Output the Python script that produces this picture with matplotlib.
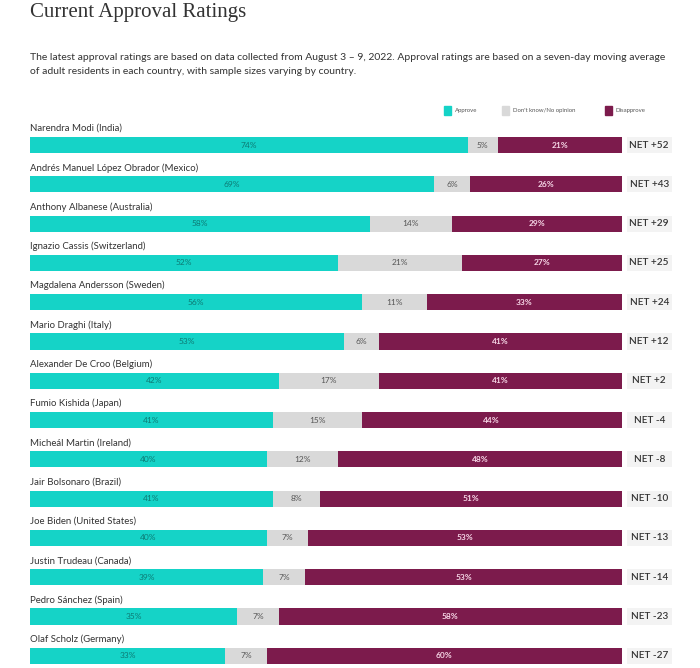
import matplotlib
matplotlib.use("Agg")
import matplotlib.pyplot as plt
import numpy as np

leaders = [
    "Narendra Modi (India)",
    "Andrés Manuel López Obrador (Mexico)",
    "Anthony Albanese (Australia)",
    "Ignazio Cassis (Switzerland)",
    "Magdalena Andersson (Sweden)",
    "Mario Draghi (Italy)",
    "Alexander De Croo (Belgium)",
    "Fumio Kishida (Japan)",
    "Micheál Martin (Ireland)",
    "Jair Bolsonaro (Brazil)",
    "Joe Biden (United States)",
    "Justin Trudeau (Canada)",
    "Pedro Sánchez (Spain)",
    "Olaf Scholz (Germany)",
]
approve = [74, 69, 58, 52, 56, 53, 42, 41, 40, 41, 40, 39, 35, 33]
no_opinion = [5, 6, 14, 21, 11, 6, 17, 15, 12, 8, 7, 7, 7, 7]
disapprove = [21, 26, 29, 27, 33, 41, 41, 44, 48, 51, 53, 53, 58, 60]
net = ["+52", "+43", "+29", "+25", "+24", "+12", "+2", "-4", "-8", "-10", "-13", "-14", "-23", "-27"]

c_app = "#15d3c7"
c_none = "#d9d9d9"
c_dis = "#7c1b4c"
sans = ["Lato", "DejaVu Sans"]

fig = plt.figure(figsize=(7, 6.68), dpi=100)
ax = fig.add_axes([30 / 700, 0, 592 / 700, 1 - 125 / 668])

a = np.array(approve, float)
n = np.array(no_opinion, float)
d = np.array(disapprove, float)
tot = a + n + d
a_w = a / tot * 100
n_w = n / tot * 100
d_w = d / tot * 100
y = np.arange(len(leaders))
h = 0.41

ax.barh(y, a_w, height=h, color=c_app)
ax.barh(y, n_w, left=a_w, height=h, color=c_none)
ax.barh(y, d_w, left=a_w + n_w, height=h, color=c_dis)
# NET boxes to the right of each bar
ax.barh(y, 7.6, left=100.8, height=h, color="#f3f3f3", clip_on=False)

for i in range(len(leaders)):
    ax.text(0, y[i] - 0.42, leaders[i], ha="left", va="center", fontsize=6.9,
            color="#333333", family=sans)
    ax.text(a_w[i] / 2, y[i], f"{approve[i]}%", ha="center", va="center",
            fontsize=6, color="#0d7a74", family=sans)
    ax.text(a_w[i] + n_w[i] / 2, y[i], f"{no_opinion[i]}%", ha="center", va="center",
            fontsize=6, color="#555555", family=sans)
    ax.text(a_w[i] + n_w[i] + d_w[i] / 2, y[i], f"{disapprove[i]}%", ha="center",
            va="center", fontsize=6, color="#f6d6e6", fontweight="bold", family=sans)
    ax.text(104.6, y[i], f"NET {net[i]}", ha="center", va="center", fontsize=7.2,
            color="#333333", family=sans, fontweight="semibold", clip_on=False)

ax.set_xlim(0, 100)
ax.set_ylim(13.31, -0.509)
ax.axis("off")

# title, note and legend
fig.text(30 / 700, 1 - 13 / 668, "Current Approval Ratings", ha="left", va="center",
         fontsize=15, family=["Liberation Serif", "DejaVu Serif"], color="#333333")
fig.text(30 / 700, 1 - 57 / 668,
         "The latest approval ratings are based on data collected from August 3 – 9, 2022. "
         "Approval ratings are based on a seven-day moving average",
         ha="left", va="center", fontsize=7.5, family=sans, color="#333333")
fig.text(30 / 700, 1 - 72 / 668,
         "of adult residents in each country, with sample sizes varying by country.",
         ha="left", va="center", fontsize=7.5, family=sans, color="#333333")

legend_items = [("Approve", c_app, 444), ("Don't know/No opinion", c_none, 502),
                ("Disapprove", c_dis, 605)]
for label, col, px in legend_items:
    fig.patches.append(plt.Rectangle((px / 700, 1 - 115 / 668), 7 / 700, 9 / 668,
                                     transform=fig.transFigure, color=col))
    fig.text((px + 11) / 700, 1 - 110.5 / 668, label, ha="left", va="center",
             fontsize=4.3, family=sans, color="#555555")

fig.savefig("out.png", dpi=100)
